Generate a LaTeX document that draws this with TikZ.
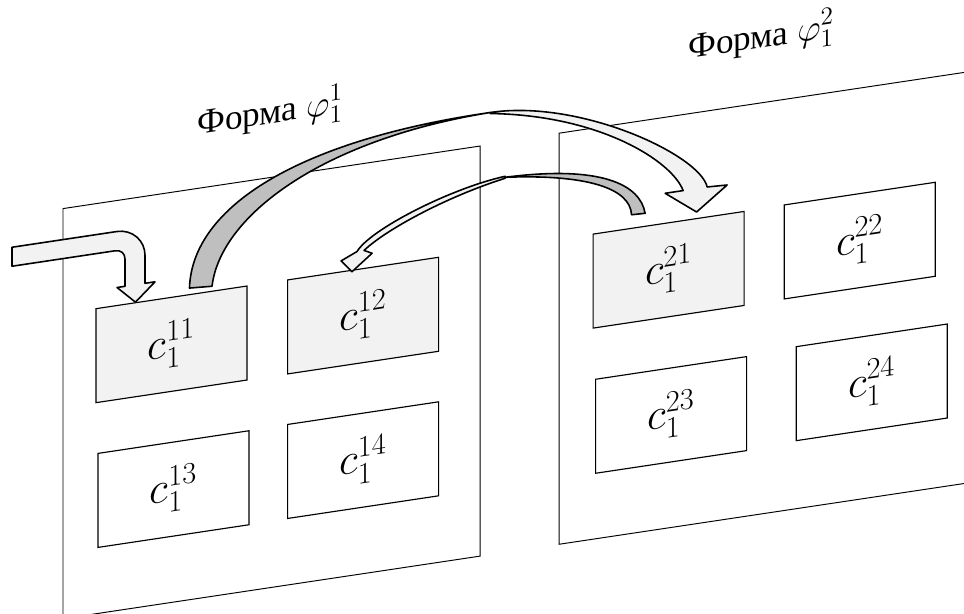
\documentclass[tikz,border=0pt]{standalone}
\usepackage{fontspec}
\setmainfont{Liberation Serif}
\newfontfamily\titlefont{Liberation Serif}
\usetikzlibrary{calc}

\definecolor{cellgray}{RGB}{242,242,242}
\definecolor{backgray}{RGB}{191,191,191}

\tikzset{
  form/.style={draw, line width=0.55pt},
  cell/.style={draw, line width=0.65pt, fill=white, inner sep=0pt,
    minimum width=3.02cm, minimum height=1.88cm, transform shape,
    font=\fontsize{25}{30}\selectfont},
  active/.style={cell, fill=cellgray},
  title/.style={anchor=base west, inner sep=0pt, transform shape,
    font=\titlefont\fontsize{20}{24}\selectfont},
  backside/.style={draw, line width=0.9pt, fill=backgray, line join=round},
  frontside/.style={draw, line width=0.9pt, fill=cellgray, line join=round},
}

\begin{document}
\begin{tikzpicture}
\useasboundingbox (0,0) rectangle (19.28,-12.28);
\clip (0,0) rectangle (19.28,-12.28);
\begin{scope}[x=0.02cm, y=-0.02cm, yslant=0.15]
% the two forms
\draw[form] (63,218) rectangle (480,628);
\draw[form] (559,217) rectangle (1010,628);

% cells
\node[active] (c11) at (171.5,370) {$c_1^{11}$};
\node[active] (c12) at (363,370)   {$c_1^{12}$};
\node[cell]   (c13) at (173.5,515) {$c_1^{13}$};
\node[cell]   (c14) at (363,514.5) {$c_1^{14}$};
\node[active] (c21) at (668.5,370) {$c_1^{21}$};
\node[cell]   (c22) at (859.5,369.5) {$c_1^{22}$};
\node[cell]   (c23) at (671,515.5) {$c_1^{23}$};
\node[cell]   (c24) at (871.5,513) {$c_1^{24}$};

% ends of the arrows
\coordinate (intip)   at ($(c11.north west)+(40,0)$);
\coordinate (a1tail)  at ($(c11.north west)+(94,-6)$);
\coordinate (a1tip)   at ($(c21.north west)+(104,-6)$);
\coordinate (a2tail)  at ($(c21.north west)+(39,-13)$);
\coordinate (a2tip)   at ($(c12.north west)+(65,2)$);

% input arrow
\draw[frontside] (12,249) -- (117,249) .. controls (132,249) and (145,262) .. (145,277)
  -- (145,305) -- (155,305) -- (intip) -- (117,305) -- (125,305) -- (125,278)
  .. controls (125,272) and (121,268) .. (115,268) -- (12,268) -- cycle;

% c11 -> c21
\draw[backside] (a1tail) .. controls (192,235) and (300,185) .. (490,186)
  .. controls (320,188) and (220,250) .. (212,318) -- cycle;
\draw[frontside] (490,186) .. controls (580,186) and (700,260) .. (707,293)
  -- (727,294) -- (a1tip) -- (665,293) -- (683,293)
  .. controls (672,262) and (600,205) .. (490,187) -- cycle;

% c21 -> c12
\draw[backside] (a2tail) .. controls (630,282) and (585,262) .. (505,253)
  .. controls (600,255) and (640,280) .. (645,310) -- cycle;
\draw[frontside] (505,252) .. controls (450,256) and (370,285) .. (357,305)
  -- (341,312) -- (a2tip) -- (372,309) -- (364,305)
  .. controls (385,288) and (445,264) .. (505,254) -- cycle;

% titles
\node[title] (f1) at (197,164) {Форма $\varphi_1^1$};
\node[title] (f2) at (688,162) {Форма $\varphi_1^2$};
\end{scope}
\end{tikzpicture}
\end{document}
